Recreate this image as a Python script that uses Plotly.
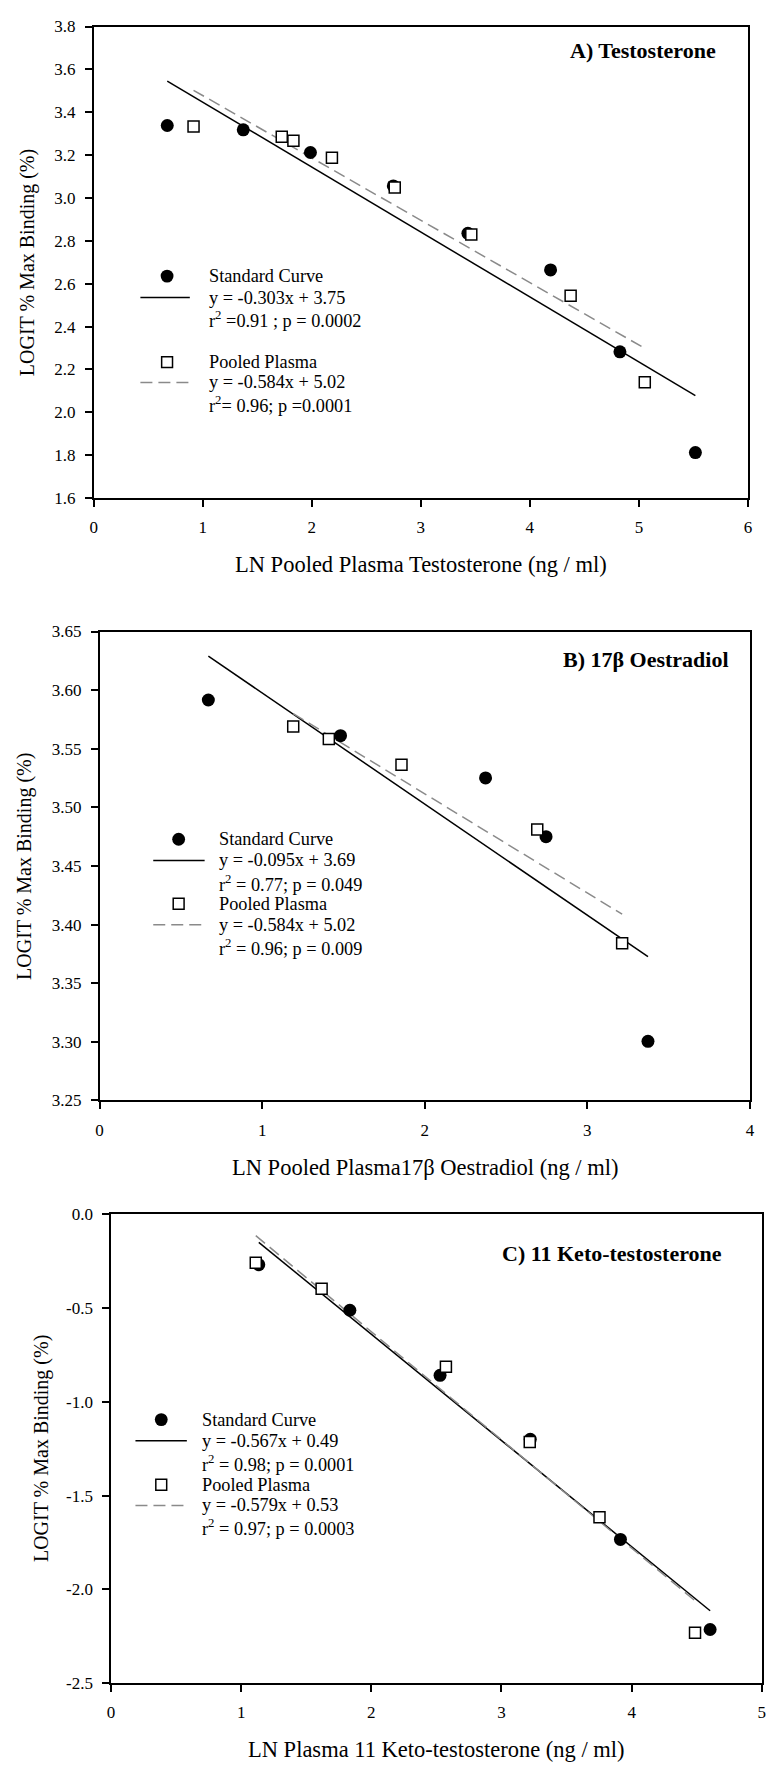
import plotly.graph_objects as go
import numpy as np

W, H = 774, 1770
FONT = "Liberation Serif"

# ---------------- data ----------------
# Panel A: Testosterone
a_std_x = [0.675, 1.372, 1.988, 2.748, 3.432, 4.190, 4.826, 5.518]
a_std_y = [3.338, 3.318, 3.212, 3.056, 2.835, 2.664, 2.282, 1.812]
a_pool_x = [0.916, 1.725, 1.832, 2.185, 2.761, 3.463, 4.374, 5.054]
a_pool_y = [3.333, 3.286, 3.267, 3.188, 3.049, 2.830, 2.544, 2.140]
a_std_fit = [-0.303, 3.75]
a_pool_fit = [-0.291, 3.769]

# Panel B: 17beta Oestradiol
b_std_x = [0.669, 1.482, 2.374, 2.746, 3.373]
b_std_y = [3.5916, 3.5612, 3.5251, 3.4750, 3.3004]
b_pool_x = [1.191, 1.410, 1.857, 2.692, 3.214]
b_pool_y = [3.5690, 3.5583, 3.5364, 3.4812, 3.3840]
b_std_fit = [-0.0948, 3.6924]
b_pool_fit = [-0.0846, 3.6808]

# Panel C: 11 Keto-testosterone
c_std_x = [1.135, 1.835, 2.528, 3.221, 3.914, 4.603]
c_std_y = [-0.269, -0.512, -0.859, -1.200, -1.734, -2.214]
c_pool_x = [1.112, 1.618, 2.573, 3.217, 3.753, 4.487]
c_pool_y = [-0.259, -0.398, -0.813, -1.214, -1.615, -2.231]
c_std_fit = [-0.5664, 0.493]
c_pool_fit = [-0.5767, 0.527]

a_yticks = [1.6, 1.8, 2.0, 2.2, 2.4, 2.6, 2.8, 3.0, 3.2, 3.4, 3.6, 3.8]
a_ytext = ["1.6", "1.8", "2.0", "2.2", "2.4", "2.6", "2.8", "3.0", "3.2", "3.4", "3.6", "3.8"]
b_yticks = [3.25, 3.30, 3.35, 3.40, 3.45, 3.50, 3.55, 3.60, 3.65]
b_ytext = ["3.25", "3.30", "3.35", "3.40", "3.45", "3.50", "3.55", "3.60", "3.65"]
c_yticks = [-2.5, -2.0, -1.5, -1.0, -0.5, 0.0]
c_ytext = ["-2.5", "-2.0", "-1.5", "-1.0", "-0.5", "0.0"]

a_title = "A) Testosterone"
b_title = "B) 17β Oestradiol"
c_title = "C) 11 Keto-testosterone"
a_xtitle = "LN Pooled Plasma Testosterone (ng / ml)"
b_xtitle = "LN Pooled Plasma17β Oestradiol (ng / ml)"
c_xtitle = "LN Plasma 11 Keto-testosterone (ng / ml)"
ytitle = "LOGIT % Max Binding (%)"

a_leg = ["Standard Curve", "y = -0.303x + 3.75", "r<sup>2</sup> =0.91 ; p = 0.0002",
         "Pooled Plasma", "y = -0.584x + 5.02", "r<sup>2</sup>= 0.96; p =0.0001"]
b_leg = ["Standard Curve", "y = -0.095x + 3.69", "r<sup>2</sup> = 0.77; p = 0.049",
         "Pooled Plasma", "y = -0.584x + 5.02", "r<sup>2</sup> = 0.96; p = 0.009"]
c_leg = ["Standard Curve", "y = -0.567x + 0.49", "r<sup>2</sup> = 0.98; p = 0.0001",
         "Pooled Plasma", "y = -0.579x + 0.53", "r<sup>2</sup> = 0.97; p = 0.0003"]

# ---------------- layout helpers ----------------
def px(x):
    return x / W

def py(y):
    return 1 - y / H

panels = [
    dict(xd=(90.7, 752.7), yd=(17.7, 494.3), xr=[0, 6], yr=[1.6, 3.8], yt=a_yticks, ytt=a_ytext,
         xt=list(range(0, 7)),
         std=(a_std_x, a_std_y, a_std_fit), pool=(a_pool_x, a_pool_y, a_pool_fit),
         title=a_title, tpos=(722, 42), xtitle=a_xtitle, xtpos=562, ytx=23.2,
         leg=a_leg, legx=205, legy=[270, 291.7, 313.5, 357, 377.5, 399.5], lline=(138, 188),
         lmark=165),
    dict(xd=(96.7, 754.7), yd=(629.3, 1103.3), xr=[0, 4], yr=[3.25, 3.65], yt=b_yticks, ytt=b_ytext,
         xt=list(range(0, 5)),
         std=(b_std_x, b_std_y, b_std_fit), pool=(b_pool_x, b_pool_y, b_pool_fit),
         title=b_title, tpos=(736, 658), xtitle=b_xtitle, xtpos=1171.4, ytx=20.2,
         leg=b_leg, legx=216, legy=[839.3, 860.7, 883.7, 904.4, 925.8, 948.7], lline=(151, 203),
         lmark=176.7),
    dict(xd=(108.3, 766.7), yd=(1218.3, 1692.3), xr=[0, 5], yr=[-2.5, 0.0], yt=c_yticks, ytt=c_ytext,
         xt=list(range(0, 6)),
         std=(c_std_x, c_std_y, c_std_fit), pool=(c_pool_x, c_pool_y, c_pool_fit),
         title=c_title, tpos=(728.6, 1257.8), xtitle=c_xtitle, xtpos=1759.5, ytx=37.8,
         leg=c_leg, legx=198.5, legy=[1425.9, 1447.3, 1470, 1491.7, 1512.7, 1535], lline=(133, 185),
         lmark=159.1),
]

fig = go.Figure()
layout = dict(
    width=W, height=H, margin=dict(l=0, r=0, t=0, b=0),
    paper_bgcolor="white", plot_bgcolor="white", showlegend=False,
    font=dict(family=FONT, color="black", size=17),
)
annotations = []
shapes = []
GRAY = "#8a8a8a"
LEGFS = 18.3

for i, p in enumerate(panels, start=1):
    sfx = "" if i == 1 else str(i)
    xa, ya = "x" + sfx, "y" + sfx
    # fit lines
    for (xs, ys, fit), dash, col in [(p["std"], "solid", "black"), (p["pool"], "12px,6px", GRAY)]:
        xl = np.array([min(xs), max(xs)])
        yl = fit[0] * xl + fit[1]
        fig.add_trace(go.Scatter(x=xl, y=yl, mode="lines", xaxis=xa, yaxis=ya,
                                 line=dict(color=col, width=1.5, dash=dash), hoverinfo="skip"))
    # points
    xs, ys, _ = p["std"]
    fig.add_trace(go.Scatter(x=xs, y=ys, mode="markers", xaxis=xa, yaxis=ya,
                             marker=dict(symbol="circle", size=13, color="black",
                                         line=dict(width=0))))
    xs, ys, _ = p["pool"]
    fig.add_trace(go.Scatter(x=xs, y=ys, mode="markers", xaxis=xa, yaxis=ya,
                             marker=dict(symbol="square", size=11, color="white",
                                         line=dict(width=1.5, color="black"))))
    axcommon = dict(showline=True, linecolor="black", linewidth=1.5, mirror=True,
                    ticks="outside", ticklen=7, tickwidth=1.5, tickcolor="black",
                    showgrid=False, zeroline=False,
                    tickfont=dict(family=FONT, size=17, color="black"))
    layout["xaxis" + sfx] = dict(axcommon, domain=[px(p["xd"][0]), px(p["xd"][1])],
                                 range=p["xr"], tickvals=p["xt"], ticktext=[str(v) for v in p["xt"]],
                                 anchor=ya, ticklabelstandoff=6)
    layout["yaxis" + sfx] = dict(axcommon, domain=[py(p["yd"][1]), py(p["yd"][0])],
                                 range=p["yr"], tickvals=p["yt"], ticktext=p["ytt"],
                                 anchor=xa, ticklabelstandoff=6)
    # panel title
    annotations.append(dict(text="<b>" + p["title"] + "</b>", x=px(p["tpos"][0]), y=py(p["tpos"][1]),
                            xref="paper", yref="paper", xanchor="right", yanchor="middle",
                            showarrow=False, font=dict(family=FONT, size=22, color="black")))
    # axis titles
    xc = (p["xd"][0] + p["xd"][1]) / 2
    yc = (p["yd"][0] + p["yd"][1]) / 2
    annotations.append(dict(text=p["xtitle"], x=px(xc), y=py(p["xtpos"]), xref="paper", yref="paper",
                            xanchor="center", yanchor="middle", showarrow=False,
                            font=dict(family=FONT, size=22.5, color="black")))
    annotations.append(dict(text=ytitle, x=px(p["ytx"]), y=py(yc), xref="paper", yref="paper",
                            xanchor="center", yanchor="middle", textangle=-90, showarrow=False,
                            font=dict(family=FONT, size=20, color="black")))
    # legend text
    for t, yy in zip(p["leg"], p["legy"]):
        annotations.append(dict(text=t, x=px(p["legx"]), y=py(yy), xref="paper", yref="paper",
                                xanchor="left", yanchor="middle", showarrow=False,
                                font=dict(family=FONT, size=LEGFS, color="black")))
    # legend symbols
    cx, r = p["lmark"], 6.5
    cy = p["legy"][0]
    shapes.append(dict(type="circle", xref="paper", yref="paper",
                       x0=px(cx - r), x1=px(cx + r), y0=py(cy + r), y1=py(cy - r),
                       fillcolor="black", line=dict(width=0)))
    s = 5.5
    sy = p["legy"][3]
    shapes.append(dict(type="rect", xref="paper", yref="paper",
                       x0=px(cx - s), x1=px(cx + s), y0=py(sy + s), y1=py(sy - s),
                       fillcolor="white", line=dict(width=1.5, color="black")))
    shapes.append(dict(type="line", xref="paper", yref="paper",
                       x0=px(p["lline"][0]), x1=px(p["lline"][1]),
                       y0=py(p["legy"][1]), y1=py(p["legy"][1]),
                       line=dict(color="black", width=1.5)))
    shapes.append(dict(type="line", xref="paper", yref="paper",
                       x0=px(p["lline"][0]), x1=px(p["lline"][1]),
                       y0=py(p["legy"][4]), y1=py(p["legy"][4]),
                       line=dict(color=GRAY, width=1.5, dash="12px,6px")))

layout["annotations"] = annotations
layout["shapes"] = shapes
fig.update_layout(**layout)
fig.write_html("out.html",
               post_script="document.body.style.margin='0px';document.body.style.padding='0px';"
                           "document.documentElement.style.overflow='hidden';")
